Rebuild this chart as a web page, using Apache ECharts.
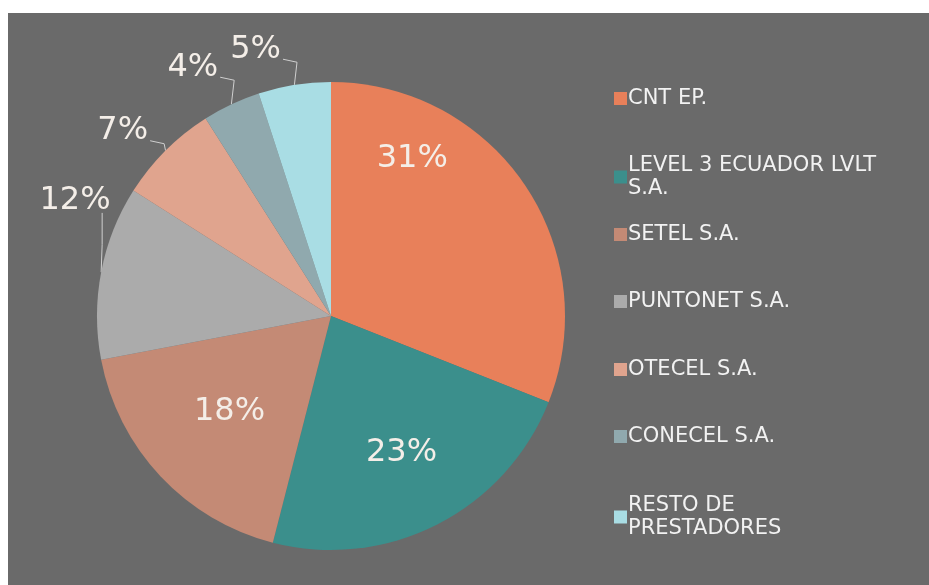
<!DOCTYPE html>
<html><head><meta charset="utf-8">
<script src="https://cdn.jsdelivr.net/npm/echarts@6/dist/echarts.min.js"></script>
<style>html,body{margin:0;padding:0;background:#fff;}#c{position:absolute;left:8px;top:13px;width:921px;height:572px;}</style>
</head><body><div id="c"></div>
<script>
const categories = ['CNT EP.', 'LEVEL 3 ECUADOR LVLT S.A.', 'SETEL S.A.', 'PUNTONET S.A.', 'OTECEL S.A.', 'CONECEL S.A.', 'RESTO DE PRESTADORES'];
const values = [31, 23, 18, 12, 7, 4, 5];
const legendLabels = ['CNT EP.', 'LEVEL 3 ECUADOR LVLT\nS.A.', 'SETEL S.A.', 'PUNTONET S.A.', 'OTECEL S.A.', 'CONECEL S.A.', 'RESTO DE\nPRESTADORES'];
const colors = ['#E8805A', '#3B8F8C', '#C48A75', '#ABABAB', '#E0A48E', '#90A9AE', '#A9DDE4'];
const insideLabel = [true, true, true, false, false, false, false];
const legendTops = [69, 136, 205, 272, 340, 407, 476];

const pctFont = "'DejaVu Sans', sans-serif";
const chart = echarts.init(document.getElementById('c'), null, {renderer: 'canvas'});
// label nudges (style only), mimicking the reference's label placement
const labelShift = [[-18, -90], [16, 30], [-14, 14], [47, -66], [13, 0], [33, -24], [6, -8]];
chart.setOption({
  backgroundColor: '#6A6A6A',
  animation: false,
  legend: categories.map((n, i) => ({
    data: [n],
    orient: 'vertical',
    left: 601,
    top: legendTops[i],
    itemWidth: 13,
    itemHeight: 13,
    icon: 'rect',
    itemGap: 0,
    selectedMode: false,
    formatter: () => legendLabels[i],
    textStyle: {color: '#F2F2F2', fontSize: 21, fontFamily: "'DejaVu Sans', sans-serif", lineHeight: 23, padding: [0, 0, 0, -4]}
  })),
  series: [{
    type: 'pie',
    center: [323, 303],
    radius: 234,
    startAngle: 90,
    clockwise: true,
    data: categories.map((n, i) => ({
      name: n,
      value: values[i],
      itemStyle: {color: colors[i]},
      label: insideLabel[i] ? {position: 'inside'} : {position: 'outside'},
      labelLine: {show: !insideLabel[i]}
    })),
    label: {
      formatter: p => p.value + '%',
      color: '#F4EEE8',
      fontSize: 32,
      fontFamily: pctFont,
      overflow: 'none'
    },
    labelLine: {length: 28, length2: 10, lineStyle: {color: '#CFCFCF', width: 1}},
    labelLayout: p => {
      const [dx, dy] = labelShift[p.dataIndex];
      const out = {dx: dx, dy: dy};
      const pts = p.labelLinePoints;
      if (!insideLabel[p.dataIndex] && pts && pts.length) {
        const r = p.labelRect;
        const right = r.x + r.width + dx;
        const bottom = r.y + r.height + dy;
        const a = pts[0];
        if (p.dataIndex === 3) {
          out.labelLinePoints = [[a[0], a[1]], [a[0] + 1, (a[1] + bottom) / 2], [a[0] + 1, bottom - 4]];
        } else {
          const e = [right + 2, bottom - 6];
          out.labelLinePoints = [[a[0], a[1]], [e[0] + 14, e[1] + 3], e];
        }
      }
      return out;
    },
    emphasis: {disabled: true}
  }]
});
</script></body></html>
